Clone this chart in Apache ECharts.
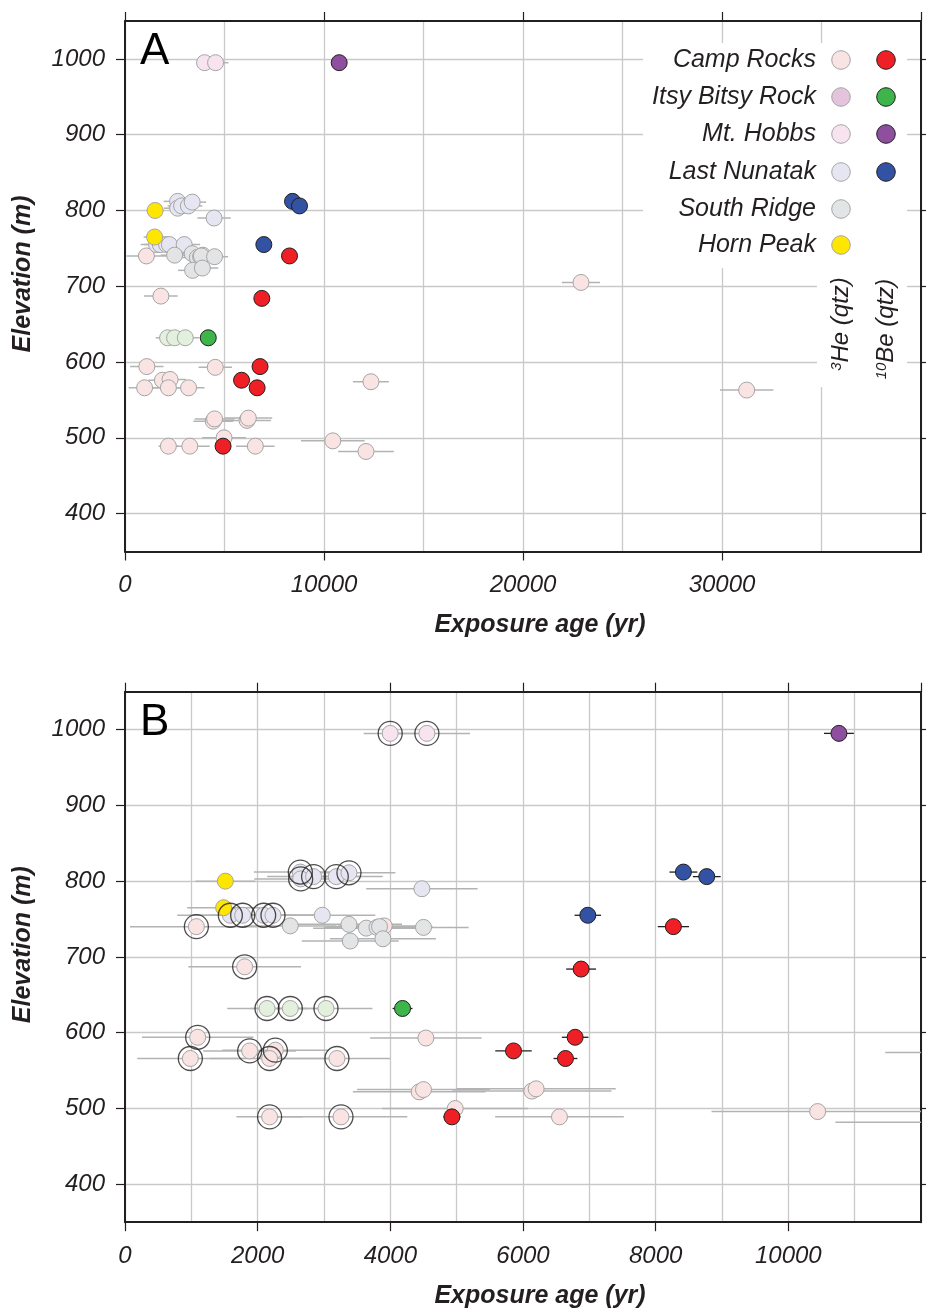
<!DOCTYPE html>
<html>
<head>
<meta charset="utf-8">
<title>Exposure ages vs elevation</title>
<script src="https://cdn.jsdelivr.net/npm/echarts@6/dist/echarts.min.js"></script>
<style>
  html, body { margin: 0; padding: 0; background: #ffffff; }
  #chart { width: 926px; height: 1309px; }
</style>
</head>
<body>
<div id="chart"></div>
<script>
// Sample data: [exposure age (yr), elevation (m), 1-sigma age uncertainty (yr), preferred flag]
const campRocksHe = [
  [1076, 740, 1000, 1], [3908, 741, 700, 0], [1804, 687, 850, 1],
  [1096, 594, 840, 1], [4536, 593, 840, 0], [985, 566, 800, 1],
  [1879, 576, 700, 1], [2266, 577, 800, 1], [2180, 566, 900, 1],
  [3195, 566, 800, 1], [4435, 522, 1000, 0], [4500, 525, 1000, 0],
  [6133, 523, 1200, 0], [6198, 526, 1200, 0], [4978, 500, 1100, 0],
  [2180, 489, 500, 1], [3256, 489, 1000, 1], [6550, 489, 970, 0],
  [10442, 496, 1600, 0], [12110, 482, 1400, 0], [12360, 574, 900, 0],
  [22915, 705, 960, 0], [31240, 563, 1340, 0]
];
const itsyBitsyHe = [[2141, 632, 600, 1], [2492, 632, 600, 1], [3030, 632, 700, 1]];
const mtHobbsHe = [[3998, 995, 400, 1], [4551, 995, 650, 1]];
const lastNunatakHe = [
  [2643, 812, 700, 1], [2648, 803, 700, 1], [2843, 806, 700, 1],
  [3185, 806, 700, 1], [3376, 811, 700, 1], [4476, 790, 840, 0],
  [1588, 755, 800, 1], [1774, 755, 800, 1], [2090, 755, 800, 1],
  [2231, 755, 800, 1], [2974, 755, 800, 0]
];
const southRidgeHe = [
  [2492, 741, 700, 0], [3376, 743, 800, 0], [3637, 738, 800, 0],
  [3798, 739, 800, 0], [3837, 740, 800, 0], [4500, 739, 680, 0],
  [3396, 721, 730, 0], [3888, 724, 800, 0]
];
const hornPeakHe = [[1513, 800, 450, 0], [1487, 765, 550, 0]];

const campRocksBe = [
  [6876, 684, 225], [6786, 594, 200], [5857, 576, 275],
  [6640, 566, 180], [4928, 489, 130], [8267, 740, 235]
];
const itsyBitsyBe = [[4184, 632, 150]];
const mtHobbsBe = [[10763, 995, 225]];
const lastNunatakBe = [[8418, 812, 210], [8770, 806, 210], [6977, 755, 200]];

const siteNames = ['Camp Rocks', 'Itsy Bitsy Rock', 'Mt. Hobbs', 'Last Nunatak', 'South Ridge', 'Horn Peak'];
const panelLabels = ['A', 'B'];
const elevationTicks = [400, 500, 600, 700, 800, 900, 1000];
const xAxisTitle = 'Exposure age (yr)';
const yAxisTitle = 'Elevation (m)';

// Styling
const INK = '#231f20';
const FONT = '"Liberation Sans", Arial, Helvetica, sans-serif';
const heSets = [
  { data: campRocksHe,   fill: '#f9e3e3' },
  { data: itsyBitsyHe,   fill: '#e4f0de' },
  { data: mtHobbsHe,     fill: '#f7e4ef' },
  { data: lastNunatakHe, fill: '#e6e6f2' },
  { data: southRidgeHe,  fill: '#e3e4e5' },
  { data: hornPeakHe,    fill: '#ffe600' }
];
const beSets = [
  { data: campRocksBe,   fill: '#ee1f25' },
  { data: itsyBitsyBe,   fill: '#3db54a' },
  { data: mtHobbsBe,     fill: '#8e4f9e' },
  { data: lastNunatakBe, fill: '#3452a4' }
];
const heKeyFill = ['#f9e3e3', '#e3c4dc', '#f7e4ef', '#e6e6f2', '#e3e4e5', '#ffe600'];
const beKeyFill = ['#ee1f25', '#3db54a', '#8e4f9e', '#3452a4', null, null];

const panels = [
  { top: 21,    xMax: 40000, xStep: 10000, rings: false },
  { top: 691.7, xMax: 12000, xStep: 2000,  rings: true }
];
const PLOT_LEFT = 125, PLOT_W = 796, PLOT_H = 530.5;

function errorBars(color, width) {
  return function (params, api) {
    const age = api.value(0), elev = api.value(1), err = api.value(2);
    const a = api.coord([age - err, elev]);
    const b = api.coord([age + err, elev]);
    const cs = params.coordSys;
    const lo = cs.x, hi = cs.x + cs.width;
    if (b[0] < lo || a[0] > hi) return null;
    return {
      type: 'line',
      shape: { x1: Math.max(a[0], lo), y1: a[1], x2: Math.min(b[0], hi), y2: b[1] },
      style: { stroke: color, lineWidth: width }
    };
  };
}

const grids = [], xAxes = [], yAxes = [], series = [];
const tickLabel = { fontFamily: FONT, fontStyle: 'italic', fontSize: 24, color: INK };
const frameLine = { show: true, onZero: false, lineStyle: { color: INK, width: 2 } };
const gridLine = { show: true, lineStyle: { color: '#c9c9c9', width: 1.3 } };
const outTick = { show: true, inside: false, length: 9, lineStyle: { color: INK, width: 1.2 } };

panels.forEach((p, i) => {
  grids.push({ left: PLOT_LEFT, top: p.top, width: PLOT_W, height: PLOT_H, containLabel: false });
  // bottom (labelled) and top (ticks only) x axes
  xAxes.push({
    type: 'value', gridIndex: i, position: 'bottom', min: 0, max: p.xMax, interval: p.xStep,
    axisLine: frameLine, axisTick: outTick,
    axisLabel: Object.assign({ margin: 22, showMaxLabel: false, formatter: v => String(v) }, tickLabel),
    splitLine: gridLine,
    minorTick: { show: false, splitNumber: 2 },
    minorSplitLine: gridLine
  });
  xAxes.push({
    type: 'value', gridIndex: i, position: 'top', min: 0, max: p.xMax, interval: p.xStep,
    axisLine: frameLine, axisTick: outTick,
    axisLabel: { show: false }, splitLine: { show: false }
  });
  // left (labelled) and right (ticks only) y axes
  yAxes.push({
    type: 'value', gridIndex: i, position: 'left', min: 350, max: 1050, splitNumber: 7,
    axisLine: frameLine,
    axisTick: Object.assign({ customValues: elevationTicks }, outTick),
    axisLabel: Object.assign({ margin: 20, customValues: elevationTicks, formatter: v => String(v) }, tickLabel),
    splitLine: gridLine
  });
  yAxes.push({
    type: 'value', gridIndex: i, position: 'right', min: 350, max: 1050, splitNumber: 7,
    axisLine: frameLine,
    axisTick: Object.assign({ customValues: elevationTicks }, outTick),
    axisLabel: { show: false }, splitLine: { show: false }
  });

  const xi = 2 * i, yi = 2 * i;
  const allHe = [].concat(...heSets.map(s => s.data));
  const allBe = [].concat(...beSets.map(s => s.data));

  series.push({
    type: 'custom', xAxisIndex: xi, yAxisIndex: yi, silent: true, z: 1,
    renderItem: errorBars('#b3b3b3', 1.5),
    encode: { x: 0, y: 1 },
    data: allHe.map(d => [d[0], d[1], d[2]])
  });
  heSets.forEach(s => {
    series.push({
      type: 'scatter', xAxisIndex: xi, yAxisIndex: yi, silent: true, z: 2,
      symbol: 'circle', symbolSize: 16,
      itemStyle: { color: s.fill, borderColor: '#a5a5a5', borderWidth: 1, opacity: 1 },
      data: s.data.map(d => [d[0], d[1]])
    });
  });
  if (p.rings) {
    series.push({
      type: 'scatter', xAxisIndex: xi, yAxisIndex: yi, silent: true, z: 3,
      symbol: 'circle', symbolSize: 24,
      itemStyle: { color: 'rgba(0,0,0,0)', borderColor: INK, borderWidth: 1.3 },
      data: allHe.filter(d => d[3] === 1).map(d => [d[0], d[1]])
    });
  }
  series.push({
    type: 'custom', xAxisIndex: xi, yAxisIndex: yi, silent: true, z: 4,
    renderItem: errorBars(INK, 1.3),
    encode: { x: 0, y: 1 },
    data: allBe.map(d => [d[0], d[1], d[2]])
  });
  beSets.forEach(s => {
    series.push({
      type: 'scatter', xAxisIndex: xi, yAxisIndex: yi, silent: true, z: 5,
      symbol: 'circle', symbolSize: 16,
      itemStyle: { color: s.fill, borderColor: INK, borderWidth: 1, opacity: 1 },
      data: s.data.map(d => [d[0], d[1]])
    });
  });
});

// Annotations: panel letters, axis titles, site key
const graphics = [];
panels.forEach((p, i) => {
  graphics.push({
    type: 'text', left: 140, top: p.top + 9, z: 10, silent: true,
    style: { text: panelLabels[i], font: '44px ' + FONT, fill: '#000' }
  });
  graphics.push({
    type: 'text', x: 540, y: p.top + 604, z: 10, silent: true,
    style: { text: xAxisTitle, font: 'italic bold 25px ' + FONT, fill: INK, align: 'center', verticalAlign: 'middle' }
  });
  graphics.push({
    type: 'text', x: 23, y: p.top + 253, rotation: Math.PI / 2, z: 10, silent: true,
    style: { text: yAxisTitle, font: 'italic bold 25px ' + FONT, fill: INK, align: 'center', verticalAlign: 'middle' }
  });
});

// white backing behind the key
graphics.push({ type: 'rect', z: 1, silent: true, shape: { x: 643, y: 43, width: 264, height: 225 }, style: { fill: '#fff' } });
graphics.push({ type: 'rect', z: 1, silent: true, shape: { x: 817, y: 268, width: 90, height: 119 }, style: { fill: '#fff' } });

const keyRows = [60, 97, 134, 172, 209, 245];
siteNames.forEach((name, k) => {
  graphics.push({
    type: 'text', x: 816, y: keyRows[k], z: 10, silent: true,
    style: { text: name, font: 'italic 25px ' + FONT, fill: INK, align: 'right', verticalAlign: 'middle' }
  });
  graphics.push({
    type: 'circle', z: 10, silent: true, shape: { cx: 841, cy: keyRows[k], r: 9.3 },
    style: { fill: heKeyFill[k], stroke: '#a5a5a5', lineWidth: 1 }
  });
  if (beKeyFill[k]) {
    graphics.push({
      type: 'circle', z: 10, silent: true, shape: { cx: 886, cy: keyRows[k], r: 9.3 },
      style: { fill: beKeyFill[k], stroke: INK, lineWidth: 1 }
    });
  }
});
const isoRich = {
  sup: { fontFamily: FONT, fontStyle: 'italic', fontSize: 15, fill: INK, verticalAlign: 'top' },
  base: { fontFamily: FONT, fontStyle: 'italic', fontSize: 24, fill: INK, verticalAlign: 'bottom' }
};
graphics.push({
  type: 'text', x: 841, y: 324, rotation: Math.PI / 2, z: 10, silent: true,
  style: { text: '{sup|3}{base|He (qtz)}', rich: isoRich, align: 'center', verticalAlign: 'middle' }
});
graphics.push({
  type: 'text', x: 886, y: 329, rotation: Math.PI / 2, z: 10, silent: true,
  style: { text: '{sup|10}{base|Be (qtz)}', rich: isoRich, align: 'center', verticalAlign: 'middle' }
});

const chart = echarts.init(document.getElementById('chart'), null, { renderer: 'canvas' });
chart.setOption({
  animation: false,
  backgroundColor: '#ffffff',
  grid: grids,
  xAxis: xAxes,
  yAxis: yAxes,
  series: series,
  graphic: graphics
});
</script>
</body>
</html>
